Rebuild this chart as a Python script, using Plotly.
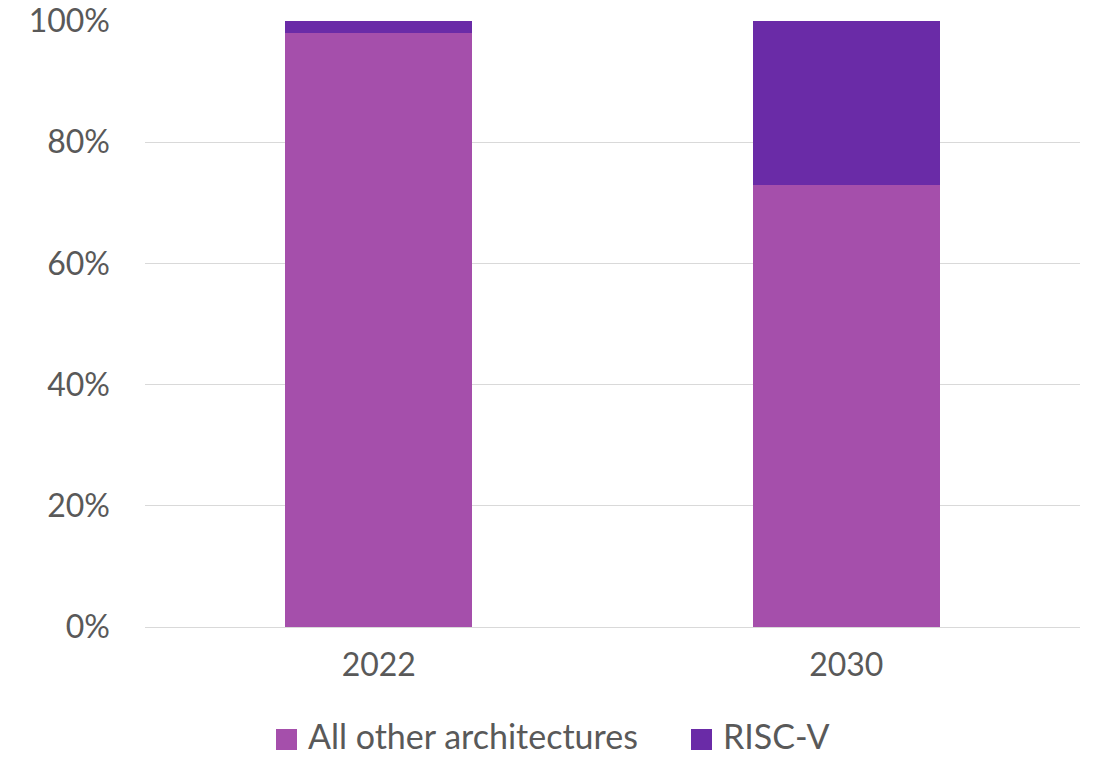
import plotly.graph_objects as go

years = ["2022", "2030"]
other_share = [0.98, 0.73]
riscv_share = [0.02, 0.27]
series_names = ["All other architectures", "RISC-V"]
series_colors = ["#A54FAB", "#6A2BA7"]
tick_vals = [0, 0.2, 0.4, 0.6, 0.8, 1.0]
tick_text = ["0%", "20%", "40%", "60%", "80%", "100%"]

font_family = "Lato, 'Open Sans', sans-serif"
text_color = "#595959"
fsize = 32
legend_fsize = 34

W, H = 1094, 758
ML, MR, MT, MB = 145, 14, 21, 131
PW, PH = W - ML - MR, H - MT - MB


def px_to_paper_x(px):
    return (px - ML) / PW


def px_to_paper_y(py):
    return (H - MB - py) / PH


fig = go.Figure()
for vals, name, col in zip([other_share, riscv_share], series_names, series_colors):
    fig.add_trace(go.Bar(x=years, y=vals, name=name, showlegend=False,
                         marker=dict(color=col, line=dict(width=0))))

# manual legend (large square swatches like the reference)
legend_items = [(276, 307), (691, 722)]  # swatch left edge, text left edge (px)
sw = 21
ly_top, ly_bot = 729, 750
for (sx, tx), name, col in zip(legend_items, series_names, series_colors):
    fig.add_shape(type="rect", xref="paper", yref="paper",
                  x0=px_to_paper_x(sx), x1=px_to_paper_x(sx + sw),
                  y0=px_to_paper_y(ly_bot), y1=px_to_paper_y(ly_top),
                  fillcolor=col, line=dict(width=0), layer="above")
    fig.add_annotation(xref="paper", yref="paper", x=px_to_paper_x(tx),
                       y=px_to_paper_y(H - 1), text=name, showarrow=False,
                       xanchor="left", yanchor="bottom", borderpad=0,
                       font=dict(size=legend_fsize, color=text_color))

fig.update_layout(
    barmode="stack",
    bargap=0.6,
    width=W, height=H,
    margin=dict(l=ML, r=MR, t=MT, b=MB, autoexpand=False),
    paper_bgcolor="white", plot_bgcolor="white",
    font=dict(family=font_family, color=text_color, size=fsize),
    showlegend=False,
    xaxis=dict(showgrid=False, showline=False, ticks="", tickfont=dict(size=fsize),
               ticklabelstandoff=16, automargin=False),
    yaxis=dict(range=[0, 1.0], tickvals=tick_vals, ticktext=tick_text,
               showgrid=True, gridcolor="#D9D9D9", gridwidth=1.3,
               zeroline=True, zerolinecolor="#D9D9D9", zerolinewidth=1.3,
               showline=False, ticks="", tickfont=dict(size=fsize),
               ticklabelstandoff=34, automargin=False),
)

fig.write_html("out.html")
